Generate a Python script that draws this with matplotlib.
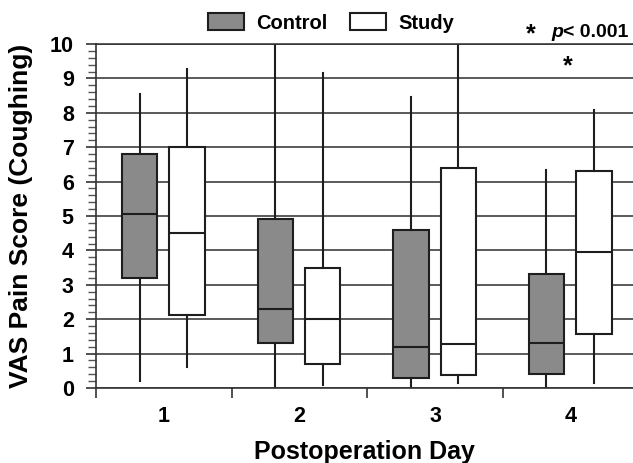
import matplotlib
matplotlib.use("Agg")
from matplotlib import pyplot as plt
from matplotlib.patches import Patch
from matplotlib.ticker import MultipleLocator, FixedLocator

plt.rcParams["font.family"] = ["Liberation Sans", "DejaVu Sans"]
plt.rcParams["font.weight"] = "bold"

days = [1, 2, 3, 4]
day_labels = ["1", "2", "3", "4"]

control_low = [0.2, 0.0, 0.0, 0.0]
control_q1 = [3.2, 1.3, 0.3, 0.4]
control_med = [5.07, 2.3, 1.2, 1.3]
control_q3 = [6.8, 4.9, 4.6, 3.3]
control_high = [8.55, 10.0, 8.45, 6.35]

study_low = [0.62, 0.1, 0.14, 0.14]
study_q1 = [2.12, 0.7, 0.38, 1.57]
study_med = [4.5, 2.0, 1.27, 3.96]
study_q3 = [7.0, 3.48, 6.4, 6.3]
study_high = [9.26, 9.15, 10.0, 8.08]

significant_days = [4]


def make_stats(low, q1, med, q3, high):
    return [dict(whislo=a, q1=b, med=c, q3=d, whishi=e, fliers=[])
            for a, b, c, d, e in zip(low, q1, med, q3, high)]


edge = "#1e1e1e"
fig = plt.figure(figsize=(6.33, 4.63), dpi=100)
ax = fig.add_axes([96 / 633, 1 - 388 / 463, 537 / 633, 344 / 463])

ax.yaxis.grid(True, color="#2e2e2e", linewidth=1.1)
ax.set_axisbelow(True)

common = dict(widths=0.26, patch_artist=True, showcaps=False, showfliers=False,
              whiskerprops=dict(color=edge, linewidth=1.5),
              medianprops=dict(color=edge, linewidth=1.5), manage_ticks=False)
ax.bxp(make_stats(control_low, control_q1, control_med, control_q3, control_high),
       positions=[d - 0.178 for d in days],
       boxprops=dict(facecolor="#8a8a8a", edgecolor=edge, linewidth=1.5), **common)
ax.bxp(make_stats(study_low, study_q1, study_med, study_q3, study_high),
       positions=[d + 0.172 for d in days],
       boxprops=dict(facecolor="white", edgecolor=edge, linewidth=1.5), **common)

ax.set_xlim(0.5, 4.46)
ax.set_ylim(0, 10)
ax.set_yticks(range(0, 11))
ax.yaxis.set_minor_locator(MultipleLocator(0.2))
ax.tick_params(axis="y", which="major", length=7, width=1.2, color="#333333",
               labelsize=15.5, pad=9)
ax.tick_params(axis="y", which="minor", length=6, width=1.0, color="#555555")

ax.xaxis.set_major_locator(FixedLocator([0.5, 1.5, 2.5, 3.5]))
ax.xaxis.set_minor_locator(FixedLocator(days))
ax.set_xticklabels([], minor=False)
ax.set_xticklabels(day_labels, minor=True)
ax.tick_params(axis="x", which="major", length=7, width=1.2, color="#333333")
ax.tick_params(axis="x", which="minor", length=0, labelsize=15.5, pad=13)

ax.spines["right"].set_visible(False)
ax.spines["top"].set_color("#2e2e2e")
ax.spines["top"].set_linewidth(1.1)
for s in ["left", "bottom"]:
    ax.spines[s].set_color("#333333")
    ax.spines[s].set_linewidth(1.2)

ax.set_ylabel("VAS Pain Score (Coughing)", fontsize=19, fontweight="bold")
ax.yaxis.set_label_coords(-0.117, 0.5)
ax.set_xlabel("Postoperation Day", fontsize=18, fontweight="bold", labelpad=9)

for d in significant_days:
    ax.text(d - 0.02, 9.35, "*", ha="center", va="center", fontsize=18, fontweight="bold")

handles = [Patch(facecolor="#8a8a8a", edgecolor=edge, linewidth=1.5, label="Control"),
           Patch(facecolor="white", edgecolor=edge, linewidth=1.5, label="Study")]
fig.legend(handles=handles, ncol=2, loc="center", bbox_to_anchor=(331 / 633, 1 - 23 / 463),
           frameon=False, fontsize=14.5, handlelength=1.79, handleheight=0.9,
           handletextpad=0.6, columnspacing=1.1, borderpad=0, borderaxespad=0)

fig.text(526 / 633, 1 - 41 / 463, "*", fontsize=18, fontweight="bold", va="baseline")
fig.text(551 / 633, 1 - 37 / 463, "p", fontsize=14, fontweight="bold", style="italic",
         va="baseline")
fig.text(563 / 633, 1 - 37 / 463, "< 0.001", fontsize=14, fontweight="bold", va="baseline")

fig.savefig("out.png", dpi=100)
